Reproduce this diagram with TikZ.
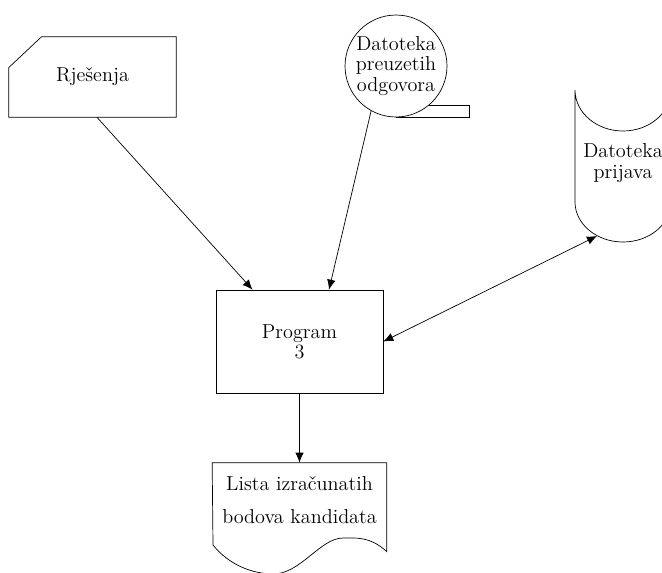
\documentclass[tikz,border=0pt]{standalone}
\usetikzlibrary{arrows.meta}
\tikzset{>={Latex[length=2mm,width=1.7mm]}}
\tikzset{lbl/.style={align=center, inner sep=0pt, font=\fontsize{11.5}{11.5}\selectfont}}

\begin{document}
\begin{tikzpicture}[x=0.02cm, y=-0.02cm]
    \clip (0,0) rectangle (662,572);
    % nodes
    \node [lbl, minimum width=3.34cm, minimum height=1.6cm] (card) at (92.5,77) {Rje\v{s}enja};
    \node [lbl, draw, circle, minimum size=2.04cm] (tape) at (396,66) {Datoteka\\preuzetih\\odgovora};
    \node [lbl, minimum width=1.92cm, minimum height=2.2cm] (drum) at (623,163) {Datoteka\\prijava};
    \node [lbl, draw, minimum width=3.34cm, minimum height=2.06cm] (prog) at (299.5,341.5) {Program\\3};
    \node [lbl, minimum width=3.48cm, minimum height=1.48cm] (doc) at (299.5,500) {Lista izra\v{c}unatih\\[7pt]bodova kandidata};
    \coordinate (drumin) at (597,236);
    % outlines
    \draw ([xshift=0.66cm]card.north west) -- (card.north east) -- (card.south east)
        -- (card.south west) -- ([yshift=-0.62cm]card.north west) -- cycle;
    \draw (tape.south) -- ++(73,0) |- (tape.-50);
    \draw (671,90) .. controls (671,112.6) and (649.5,131) .. (623,131)
        .. controls (596.5,131) and (575,112.6) .. (575,90) -- (575,202)
        .. controls (575,224) and (596.5,242) .. (623,242)
        .. controls (649.5,242) and (671,224) .. (671,202);
    \draw (doc.north west) -- (doc.north east) -- ++(0,89)
        .. controls (370,536) and (355,538) .. (343,538)
        .. controls (320,538) and (300,575) .. (272,574)
        .. controls (245,573) and (225,560) .. (213,545) -- cycle;
    % connectors
    \draw [->] ([xshift=0.09cm]card.south) -- ([xshift=-0.94cm]prog.north);
    \draw [->] (tape.241) -- ([xshift=0.59cm]prog.north);
    \draw [<->] (drumin) -- (prog.east);
    \draw [->] (prog.south) -- (doc.north);
\end{tikzpicture}
\end{document}
